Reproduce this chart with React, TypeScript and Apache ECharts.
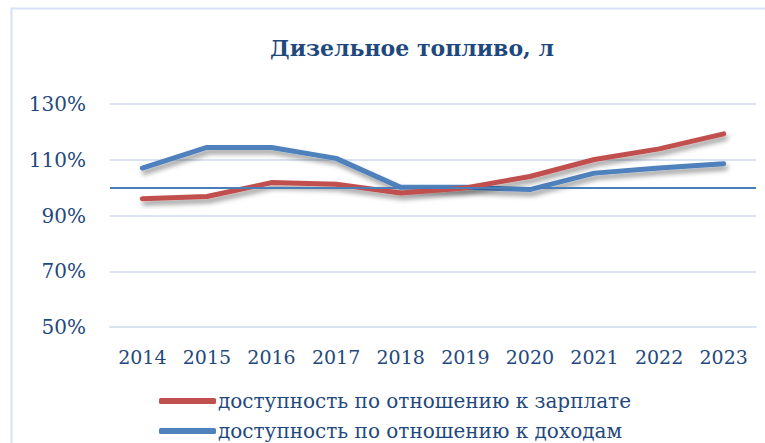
import React, { useEffect, useRef } from "react";
import * as echarts from "echarts";

const years = ["2014", "2015", "2016", "2017", "2018", "2019", "2020", "2021", "2022", "2023"];
const salarySeries = [96.0, 96.8, 101.8, 101.2, 98.1, 99.9, 104.0, 110.1, 113.9, 119.3];
const incomeSeries = [107.0, 114.4, 114.4, 110.5, 100.1, 100.1, 99.3, 105.2, 107.0, 108.6];
const seriesNames = ["доступность по отношению к зарплате", "доступность по отношению к доходам"];
const titleText = "Дизельное топливо, л";
const axisMin = 50;
const axisMax = 130;
const axisStep = 20;
const referenceValue = 100;

const FONT = "DejaVu Serif";
const TEXT = "#1f497d";

export default function App() {
  const ref = useRef<HTMLDivElement>(null);
  useEffect(() => {
    if (!ref.current) return;
    const chart = echarts.init(ref.current, undefined, { renderer: "svg" });
    const shift = (v: number) => v - axisMin;
    const shadow = {
      shadowColor: "rgba(0,0,0,0.4)",
      shadowBlur: 5,
      shadowOffsetX: 2,
      shadowOffsetY: 4,
    };
    const legendBase = {
      orient: "vertical",
      left: 159,
      padding: 0,
      itemWidth: 57,
      itemHeight: 6,
      icon: "roundRect",
      textStyle: { fontFamily: FONT, fontSize: 20, color: TEXT, padding: [0, 0, 0, -3] },
    };
    chart.setOption({
      animation: false,
      backgroundColor: "#ffffff",
      graphic: [
        {
          type: "rect",
          left: 9,
          top: 6,
          shape: { width: 800, height: 500 },
          style: { fill: "none", stroke: "#d5e2f2", lineWidth: 2 },
          silent: true,
          z: -1,
        },
      ],
      title: {
        text: titleText,
        left: 407,
        top: 32,
        textAlign: "center",
        textStyle: { fontFamily: FONT, fontWeight: "bold", fontSize: 22, color: TEXT },
      },
      grid: { left: 110, right: 9, top: 104, bottom: 116, containLabel: false },
      legend: [
        { ...legendBase, top: 391, data: [seriesNames[0]] },
        { ...legendBase, top: 421, data: [seriesNames[1]] },
      ],
      xAxis: {
        type: "category",
        data: years,
        boundaryGap: true,
        axisLine: { show: true, lineStyle: { color: "#d9e4f2", width: 2 } },
        axisTick: { show: false },
        axisLabel: { margin: 20, fontFamily: FONT, fontSize: 19, color: TEXT },
      },
      yAxis: {
        type: "value",
        min: 0,
        max: axisMax - axisMin,
        interval: axisStep,
        axisLine: { show: false },
        axisTick: { show: false },
        splitLine: { lineStyle: { color: "#d9e4f2", width: 2 } },
        axisLabel: {
          margin: 24,
          fontFamily: FONT,
          fontSize: 20,
          color: TEXT,
          formatter: (v: number) => `${v + axisMin}%`,
        },
      },
      series: [
        {
          name: "ref",
          type: "line",
          data: [],
          z: 1,
          markLine: {
            silent: true,
            symbol: "none",
            label: { show: false },
            lineStyle: { color: "#4a7ebb", width: 2, type: "solid" },
            data: [{ yAxis: shift(referenceValue) }],
          },
        },
        {
          name: seriesNames[0],
          type: "line",
          data: salarySeries.map(shift),
          symbol: "none",
          z: 3,
          itemStyle: { color: "#c0504d" },
          lineStyle: { color: "#c0504d", width: 5, cap: "round", join: "round", ...shadow },
        },
        {
          name: seriesNames[1],
          type: "line",
          data: incomeSeries.map(shift),
          symbol: "none",
          z: 2,
          itemStyle: { color: "#4f81bd" },
          lineStyle: { color: "#4f81bd", width: 5, cap: "round", join: "round", ...shadow },
        },
      ],
    });
    return () => chart.dispose();
  }, []);
  return (
    <div
      ref={ref}
      style={{ position: "fixed", left: 0, top: 0, width: 765, height: 443 }}
    />
  );
}
